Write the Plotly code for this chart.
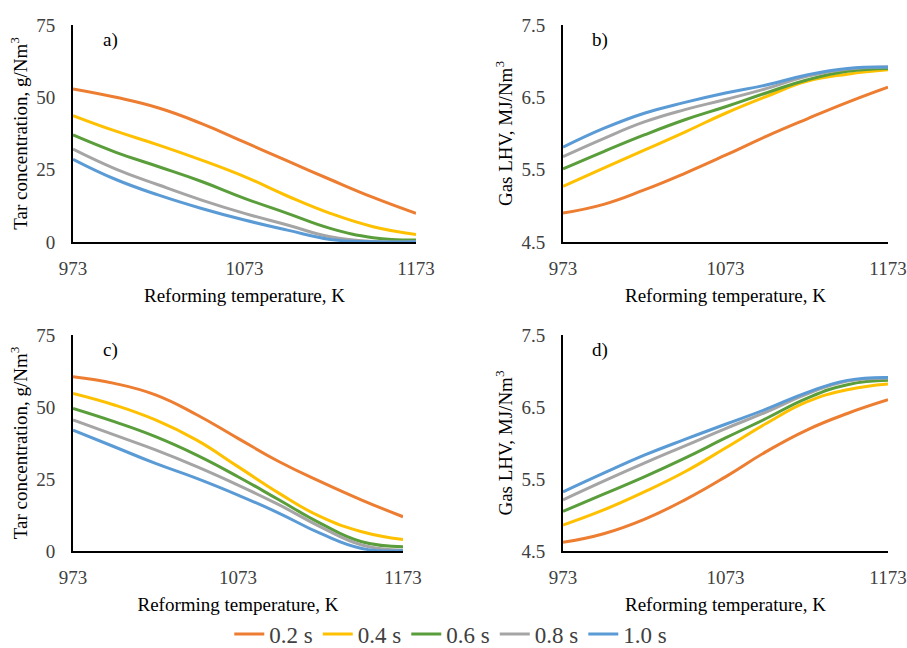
import plotly.graph_objects as go

temps = [973, 998, 1023, 1048, 1073, 1098, 1123, 1148, 1173]
series_names = ["0.2 s", "0.4 s", "0.6 s", "0.8 s", "1.0 s"]
colors = ["#ED7D31", "#FFC000", "#5A9E3C", "#A5A5A5", "#5B9BD5"]

# panel a) tar concentration, g/Nm3
tar_a_02 = [52.9, 50.0, 46.3, 40.9, 34.5, 28.0, 21.6, 15.4, 9.9]
tar_a_04 = [43.7, 38.3, 33.5, 28.3, 22.6, 15.9, 9.9, 5.3, 2.6]
tar_a_06 = [37.0, 31.0, 26.0, 20.9, 15.1, 9.9, 4.7, 1.5, 0.7]
tar_a_08 = [32.1, 25.2, 19.7, 14.5, 9.9, 5.9, 1.8, 0.2, 0.2]
tar_a_10 = [28.6, 21.6, 16.2, 11.6, 7.6, 4.1, 0.9, 0.1, 0.1]

# panel b) gas LHV, MJ/Nm3
lhv_b_02 = [4.90, 5.02, 5.22, 5.45, 5.70, 5.96, 6.20, 6.43, 6.64]
lhv_b_04 = [5.27, 5.52, 5.77, 6.02, 6.28, 6.51, 6.72, 6.82, 6.88]
lhv_b_06 = [5.51, 5.75, 5.98, 6.19, 6.37, 6.56, 6.74, 6.86, 6.90]
lhv_b_08 = [5.68, 5.93, 6.16, 6.33, 6.47, 6.62, 6.79, 6.89, 6.92]
lhv_b_10 = [5.81, 6.07, 6.28, 6.43, 6.56, 6.67, 6.81, 6.90, 6.92]

# panel c) tar concentration, g/Nm3
tar_c_02 = [60.5, 58.2, 54.2, 47.3, 39.1, 31.0, 24.1, 17.7, 11.9]
tar_c_04 = [54.7, 50.7, 45.5, 38.5, 29.3, 20.0, 11.9, 6.7, 4.0]
tar_c_06 = [49.5, 44.9, 39.7, 33.3, 25.8, 17.7, 9.6, 3.2, 1.5]
tar_c_08 = [45.5, 40.3, 35.1, 29.3, 22.9, 16.0, 8.4, 2.1, 0.3]
tar_c_10 = [42.0, 36.2, 30.4, 25.2, 19.4, 13.1, 6.1, 0.9, 0.1]

# panel d) gas LHV, MJ/Nm3
lhv_d_02 = [4.62, 4.74, 4.94, 5.21, 5.53, 5.88, 6.18, 6.41, 6.60]
lhv_d_04 = [4.86, 5.07, 5.32, 5.60, 5.93, 6.27, 6.57, 6.74, 6.82]
lhv_d_06 = [5.05, 5.29, 5.53, 5.79, 6.07, 6.34, 6.62, 6.81, 6.87]
lhv_d_08 = [5.21, 5.47, 5.72, 5.96, 6.20, 6.43, 6.68, 6.86, 6.90]
lhv_d_10 = [5.32, 5.58, 5.83, 6.05, 6.26, 6.47, 6.70, 6.87, 6.91]

x_ticks = [973, 1073, 1173]
tar_ticks = [0, 25, 50, 75]
lhv_ticks = [4.5, 5.5, 6.5, 7.5]
lhv_tick_text = ["4.5", "5.5", "6.5", "7.5"]

x_title = "Reforming temperature, K"
tar_title = "Tar concentration, g/Nm<sup>3</sup>"
lhv_title = "Gas LHV, MJ/Nm<sup>3</sup>"
panel_labels = ["a)", "b)", "c)", "d)"]

panels = [
    ("x", "y", [tar_a_02, tar_a_04, tar_a_06, tar_a_08, tar_a_10]),
    ("x2", "y2", [lhv_b_02, lhv_b_04, lhv_b_06, lhv_b_08, lhv_b_10]),
    ("x3", "y3", [tar_c_02, tar_c_04, tar_c_06, tar_c_08, tar_c_10]),
    ("x4", "y4", [lhv_d_02, lhv_d_04, lhv_d_06, lhv_d_08, lhv_d_10]),
]

FONT = "Liberation Serif"
W, H = 907, 648

fig = go.Figure()
for pi, (xa, ya, data) in enumerate(panels):
    for si, vals in enumerate(data):
        fig.add_trace(go.Scatter(
            x=temps, y=vals, mode="lines", xaxis=xa, yaxis=ya,
            name=series_names[si], legendgroup=series_names[si],
            showlegend=(pi == 0),
            line=dict(color=colors[si], width=3, shape="spline", smoothing=1.3),
        ))

def px_x(a, b):
    return [a / W, b / W]

def px_y(top, bottom):
    return [1 - bottom / H, 1 - top / H]

dom = {
    "a": (px_x(73, 416), px_y(25, 242)),
    "b": (px_x(563, 888), px_y(25, 242)),
    "c": (px_x(73, 403), px_y(335, 551)),
    "d": (px_x(563, 888), px_y(335, 551)),
}

tickfont = dict(family=FONT, size=19, color="#404040")
titlefont = dict(family=FONT, size=19, color="black")

def xaxis(domain, anchor):
    return dict(domain=domain, anchor=anchor, range=[973, 1173], automargin=False,
                tickvals=x_ticks, ticks="", showgrid=False, zeroline=False,
                showline=True, linecolor="black", linewidth=2,
                layer="below traces", tickfont=tickfont, ticklabelstandoff=8,
                title=dict(text=x_title, font=titlefont, standoff=11))

def yaxis(domain, anchor, rng, tv, title, tt=None):
    d = dict(domain=domain, anchor=anchor, range=rng, tickvals=tv, automargin=False,
             ticks="", showgrid=False, zeroline=False, showline=True,
             linecolor="black", linewidth=2, layer="below traces",
             tickfont=tickfont, ticklabelstandoff=12,
             title=dict(text=title, font=titlefont, standoff=4))
    if tt is not None:
        d["ticktext"] = tt
    return d

fig.update_layout(
    width=W, height=H,
    margin=dict(l=0, r=0, t=0, b=0, autoexpand=False),
    paper_bgcolor="white", plot_bgcolor="white",
    xaxis=xaxis(dom["a"][0], "y"),
    yaxis=yaxis(dom["a"][1], "x", [0, 75], tar_ticks, tar_title),
    xaxis2=xaxis(dom["b"][0], "y2"),
    yaxis2=yaxis(dom["b"][1], "x2", [4.5, 7.5], lhv_ticks, lhv_title, lhv_tick_text),
    xaxis3=xaxis(dom["c"][0], "y3"),
    yaxis3=yaxis(dom["c"][1], "x3", [0, 75], tar_ticks, tar_title),
    xaxis4=xaxis(dom["d"][0], "y4"),
    yaxis4=yaxis(dom["d"][1], "x4", [4.5, 7.5], lhv_ticks, lhv_title, lhv_tick_text),
    legend=dict(orientation="h", x=0.497, xanchor="center", y=1 - 634 / H,
                yanchor="middle", font=dict(family=FONT, size=23, color="#404040"),
                bgcolor="rgba(0,0,0,0)", itemwidth=30, tracegroupgap=0),
    showlegend=True,
)

label_pos = [(110, 40), (600, 40), (110, 350), (600, 350)]
for lab, (lx, ly) in zip(panel_labels, label_pos):
    fig.add_annotation(text=lab, x=lx / W, y=1 - ly / H, xref="paper", yref="paper",
                       showarrow=False, font=dict(family=FONT, size=19, color="black"),
                       xanchor="center", yanchor="middle")

fig.write_html("out.html")
